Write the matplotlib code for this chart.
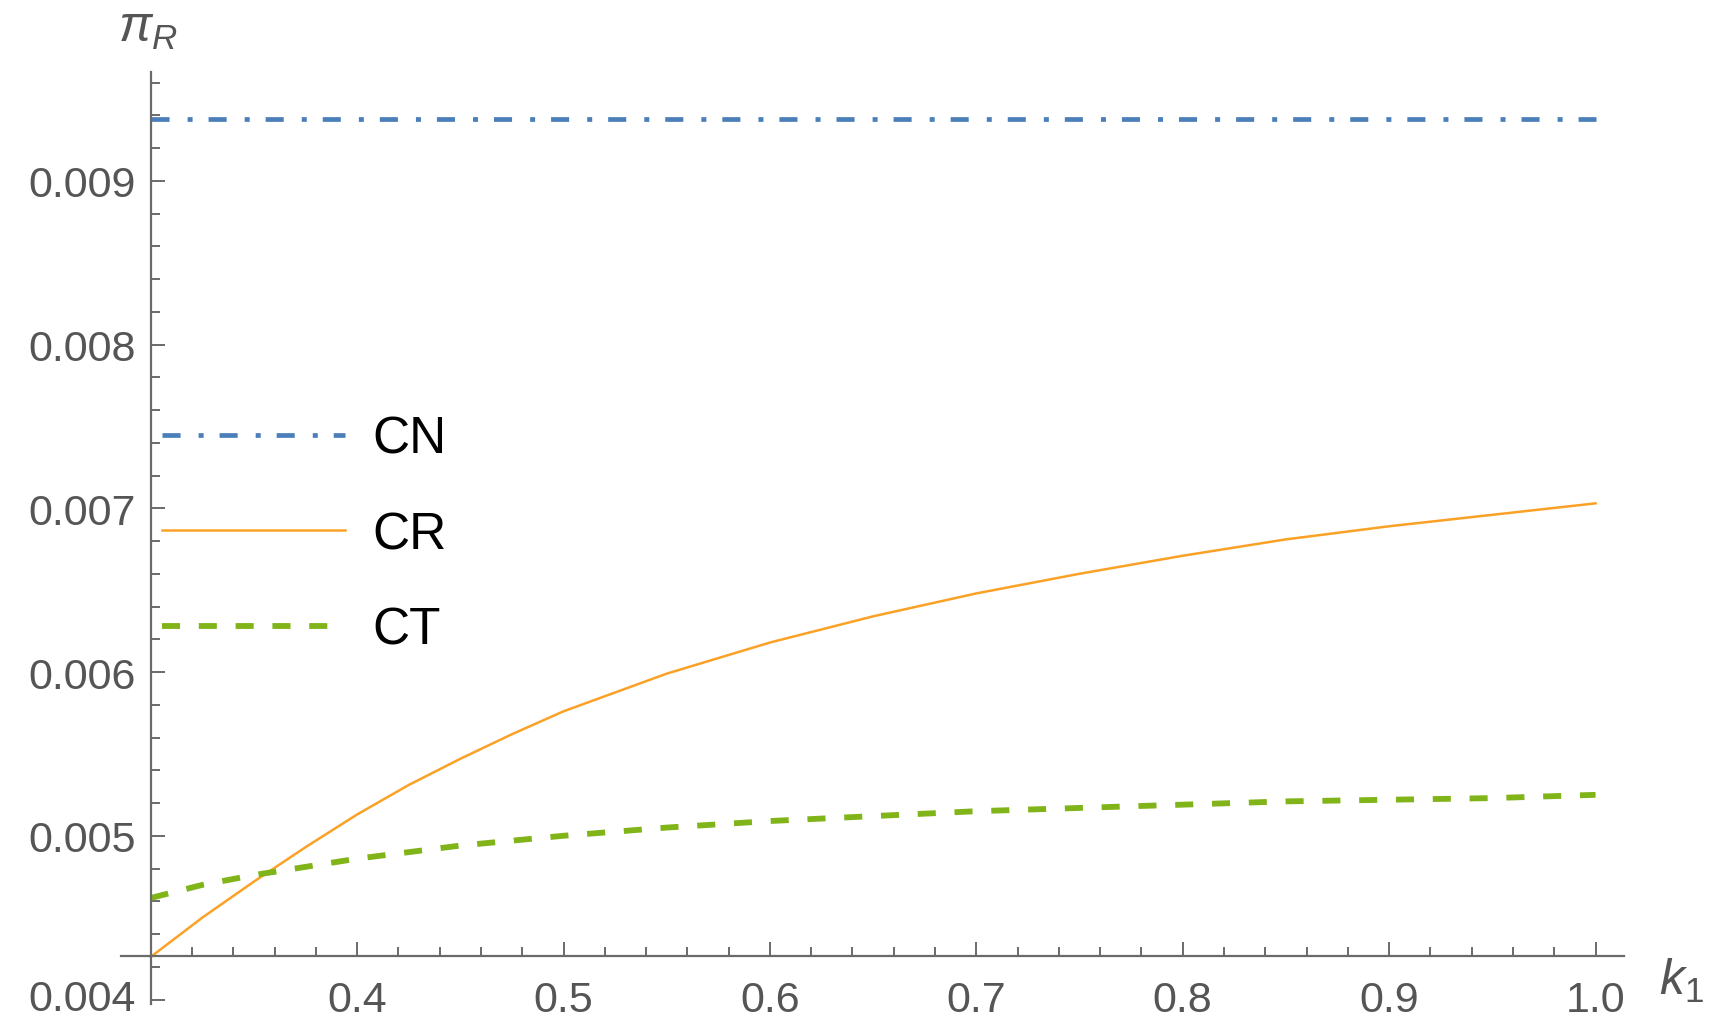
import numpy as np
import matplotlib
matplotlib.use('Agg')
import matplotlib.pyplot as plt
from matplotlib.transforms import ScaledTranslation

plt.rcParams['font.family'] = ['Liberation Sans', 'DejaVu Sans']
plt.rcParams['mathtext.fontset'] = 'custom'
plt.rcParams['mathtext.it'] = 'Liberation Sans:italic'
plt.rcParams['mathtext.rm'] = 'Liberation Sans'
plt.rcParams['lines.scale_dashes'] = False

### data
k1 = [0.300, 0.325, 0.350, 0.375, 0.400, 0.425, 0.450, 0.475, 0.50, 0.55, 0.60,
      0.65, 0.70, 0.75, 0.80, 0.85, 0.90, 0.95, 1.00]
cr = [0.00426, 0.00450, 0.00472, 0.00493, 0.00513, 0.00531, 0.00547, 0.00562,
      0.00576, 0.00599, 0.00618, 0.00634, 0.00648, 0.00660, 0.00671, 0.00681,
      0.00689, 0.00696, 0.00703]
ct = [0.00462, 0.00470, 0.00476, 0.00481, 0.00486, 0.00490, 0.00494, 0.00497,
      0.00500, 0.00505, 0.00509, 0.00512, 0.00515, 0.00517, 0.00519, 0.00521,
      0.00522, 0.00523, 0.00525]
k1_cn = [0.30, 1.00]
cn = [0.009377, 0.009377]

xticks = [0.4, 0.5, 0.6, 0.7, 0.8, 0.9, 1.0]
xticklabels = ['0.4', '0.5', '0.6', '0.7', '0.8', '0.9', '1.0']
yticks = [0.004, 0.005, 0.006, 0.007, 0.008, 0.009]
yticklabels = ['0.004', '0.005', '0.006', '0.007', '0.008', '0.009']

W, H = 1713, 1020
fig = plt.figure(figsize=(W / 100, H / 100), dpi=100)
ax = fig.add_axes([0, 0, 1, 1])
ax.patch.set_alpha(0)

### colours
blue = '#4a7fba'
orange = '#fba126'
green = '#80b418'
grey = '#6a6a6a'

ax.plot(k1_cn, cn, color=blue, lw=3.4, linestyle=(0, (13, 13, 3.6, 11.5)),
        dash_capstyle='butt', label='CN')
ax.plot(k1, cr, color=orange, lw=1.8, label='CR')
ax.plot(k1, ct, color=green, lw=4.2, linestyle=(0, (13, 13.5)),
        dash_capstyle='butt', label='CT')

### axis ranges, from pixel layout
ax.set_xlim(0.2270, 1.0569)
ax.set_ylim(0.003881, 0.010110)

for s in ['top', 'right']:
    ax.spines[s].set_visible(False)
ax.spines['left'].set_position(('data', 0.3))
ax.spines['bottom'].set_position(('data', 0.004265))
ax.spines['left'].set_bounds(0.00397, 0.009666)
ax.spines['bottom'].set_bounds(0.2858, 1.0137)
for s in ['left', 'bottom']:
    ax.spines[s].set_color(grey)
    ax.spines[s].set_linewidth(1.6)

ax.set_xticks(xticks)
ax.set_xticklabels(xticklabels)
ax.set_yticks(yticks)
ax.set_yticklabels(yticklabels)
ax.set_xticks(np.arange(0.32, 1.0, 0.02), minor=True)
ax.set_yticks(np.arange(0.0040, 0.00961, 0.0002), minor=True)
ax.tick_params(which='both', direction='in', color=grey, width=1.4,
               labelsize=31, labelcolor='#555555')
ax.tick_params(which='major', length=10)
ax.tick_params(which='minor', length=6.5)
ax.tick_params(axis='x', pad=17)
ax.tick_params(axis='y', pad=11)

### lowest y label sits at the bottom edge; nudge it up a little
lab = ax.get_yticklabels()[0]
lab.set_transform(lab.get_transform() + ScaledTranslation(0, 0.05, fig.dpi_scale_trans))

### axis labels at the ends of the axes
fig.text(118 / W, 1 - 42 / H, r'$\pi_R$', fontsize=36, color='#555555',
         ha='left', va='baseline')
fig.text(1659 / W, 1 - 995 / H, r'$k_1$', fontsize=36, color='#555555',
         ha='left', va='baseline')

leg = ax.legend(loc='upper left', bbox_to_anchor=(162 / W, 1 - 416 / H),
                bbox_transform=fig.transFigure, frameon=False, fontsize=37,
                handlelength=3.56, handletextpad=0.54, labelspacing=0.9,
                borderpad=0, borderaxespad=0)

fig.savefig('out.png', dpi=100)
